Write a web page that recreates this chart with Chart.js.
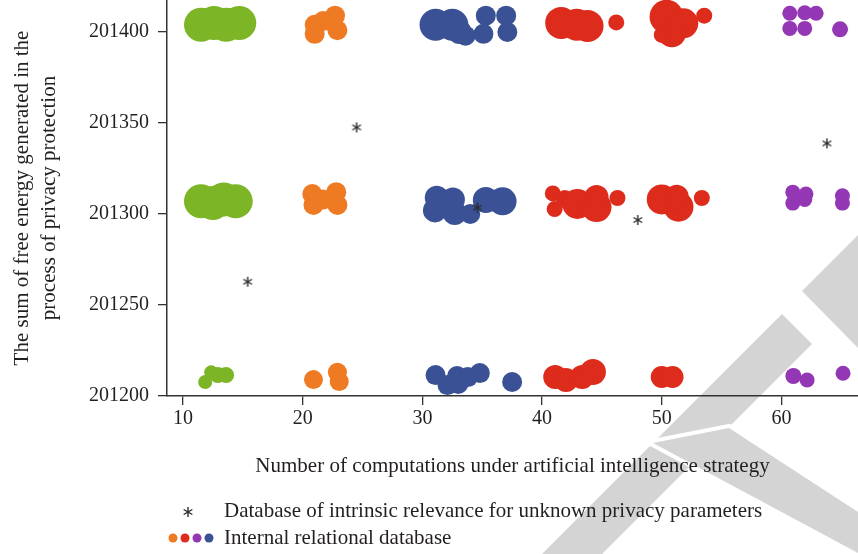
<!DOCTYPE html>
<html>
<head>
<meta charset="utf-8">
<script src="https://cdn.jsdelivr.net/npm/chart.js@4.4.1/dist/chart.umd.min.js"></script>
<style>
  html, body { margin: 0; padding: 0; background: #fff; }
  canvas { display: block; }
</style>
</head>
<body>
<canvas id="chart" width="858" height="554"></canvas>
<script>
// axis ticks
const xTicks = [10, 20, 30, 40, 50, 60];
const yTicks = [201200, 201250, 201300, 201350, 201400];

// green group (not in legend)
const greenX = [11.5, 12.6, 13.6, 14.7, 11.5, 12.5, 13.4, 14.4, 11.85, 12.35, 12.9, 13.6];
const greenY = [201404, 201405, 201404, 201405, 201307, 201306, 201308, 201307, 201207.7, 201213, 201211.5, 201211.5];
const greenR = [17, 17, 17, 17, 17, 17, 17, 17, 7, 7, 8, 8];

// internal relational database
const orangeX = [21.0, 22.7, 22.9, 21.0, 21.7, 20.8, 22.8, 22.9, 20.9, 21.7, 20.9, 22.9, 23.05];
const orangeY = [201404, 201409, 201401, 201399, 201406, 201311, 201312, 201305, 201305, 201308, 201209, 201213, 201208];
const orangeR = [10, 10, 10, 10, 10, 10, 10, 10, 10, 10, 9.5, 9.5, 9.5];

const blueX = [31.1, 32.5, 33.1, 33.6, 35.1, 35.3, 37.0, 37.1, 31.2, 31.05, 32.55, 32.7, 34.0, 35.3, 36.7, 31.1, 32.1, 33.0, 32.9, 33.8, 34.8, 37.5];
const blueY = [201404, 201404, 201400, 201398, 201399, 201409, 201409, 201400, 201309, 201302, 201308, 201300.5, 201300, 201307.7, 201307, 201211.5, 201206, 201206.6, 201211, 201210.4, 201212.6, 201207.7];
const blueR = [16, 16, 12, 10, 10, 10, 10, 10, 12, 12, 12, 12, 10, 13, 14, 10, 10, 10, 10, 10, 10, 10];

const redX = [41.6, 42.9, 43.8, 46.2, 50.4, 51.8, 50.85, 50.0, 53.55, 40.9, 41.05, 41.9, 42.95, 44.55, 44.55, 46.3, 50.0, 51.4, 51.25, 53.35, 41.1, 42.0, 43.35, 44.25, 50.0, 50.9];
const redY = [201405, 201404, 201403.3, 201405.3, 201408.4, 201404.8, 201399.3, 201398.4, 201409, 201311.3, 201302.7, 201308.2, 201305.5, 201303.8, 201309.3, 201308.8, 201308, 201304, 201309.5, 201308.8, 201210.4, 201208.8, 201210.4, 201213.2, 201210.4, 201210.4];
const redR = [16, 16, 16, 8, 17, 15, 14, 8, 8, 8, 8, 9, 15, 15, 12, 8, 15, 15, 12, 8, 12, 12, 12, 13, 11, 11];

const purpleX = [60.7, 61.95, 62.9, 60.7, 61.95, 64.9, 60.95, 62.05, 60.95, 61.95, 65.1, 65.1, 61.0, 62.15, 65.15];
const purpleY = [201410.3, 201410.6, 201410.3, 201402, 201402, 201401.5, 201312, 201311, 201306, 201308, 201310, 201306, 201211, 201208.8, 201212.5];
const purpleR = [7.5, 7.5, 7.5, 7.5, 7.5, 8, 7.5, 7.5, 7.5, 7.5, 7.5, 7.5, 8, 7.5, 7.5];

// database of intrinsic relevance (asterisks)
const starX = [15.4, 24.5, 34.6, 48.0, 63.8];
const starY = [201262.8, 201347.6, 201303.5, 201296.7, 201338.8];

const legendLabels = [
  'Database of intrinsic relevance for unknown privacy parameters',
  'Internal relational database'
];

const COLORS = {
  green: '#7cb526',
  orange: '#ee7b23',
  blue: '#3a5195',
  red: '#dd2c1c',
  purple: '#9437b5',
  star: '#2a2a2a'
};
const FONT = '"Liberation Serif", "Times New Roman", serif';

function toPoints(xs, ys, rs) {
  return xs.map((x, i) => ({ x: x, y: ys[i], r: rs ? rs[i] : undefined }));
}

// small "*" glyph used as point style
function makeStar(size) {
  const c = document.createElement('canvas');
  c.width = size; c.height = size;
  const g = c.getContext('2d');
  g.strokeStyle = COLORS.star;
  g.lineWidth = 1.4;
  const m = size / 2, len = size / 2 - 1;
  for (let k = 0; k < 3; k++) {
    const a = Math.PI / 2 + k * Math.PI / 3;
    g.beginPath();
    g.moveTo(m - Math.cos(a) * len, m - Math.sin(a) * len);
    g.lineTo(m + Math.cos(a) * len, m + Math.sin(a) * len);
    g.stroke();
  }
  return c;
}
const starImg = makeStar(12);

// light grey watermark behind everything
const watermark = {
  id: 'watermark',
  beforeDraw(chart) {
    const ctx = chart.ctx;
    const poly = pts => {
      ctx.beginPath();
      pts.forEach((p, i) => i ? ctx.lineTo(p[0], p[1]) : ctx.moveTo(p[0], p[1]));
      ctx.closePath();
    };
    ctx.save();
    ctx.fillStyle = '#d4d4d4';
    poly([[858, 235], [802, 291], [858, 348]]);
    ctx.fill();
    poly([[782, 314], [812, 344], [602, 554], [542, 554]]);
    ctx.fill();
    // crossing stroke, separated by a thin white gap
    poly([[653, 443], [729, 428], [858, 512], [858, 553]]);
    ctx.strokeStyle = '#fff';
    ctx.lineWidth = 8;
    ctx.lineJoin = 'miter';
    ctx.stroke();
    ctx.fill();
    ctx.restore();
  }
};

// legend under the axis title
const bottomLegend = {
  id: 'bottomLegend',
  afterDraw(chart) {
    const ctx = chart.ctx;
    ctx.save();
    ctx.font = '21px ' + FONT;
    ctx.fillStyle = '#231f20';
    ctx.textBaseline = 'middle';
    ctx.textAlign = 'left';
    ctx.drawImage(starImg, 188 - starImg.width / 2, 512 - starImg.height / 2);
    ctx.fillText(legendLabels[0], 224, 511);
    [COLORS.orange, COLORS.red, COLORS.purple, COLORS.blue].forEach((c, i) => {
      ctx.fillStyle = c;
      ctx.beginPath();
      ctx.arc(173 + i * 12, 538, 4.5, 0, Math.PI * 2);
      ctx.fill();
    });
    ctx.fillStyle = '#231f20';
    ctx.fillText(legendLabels[1], 224, 538);
    ctx.restore();
  }
};

function bubbleSet(label, xs, ys, rs, color) {
  return {
    type: 'bubble',
    label: label,
    data: toPoints(xs, ys, rs),
    backgroundColor: color,
    borderWidth: 0,
    hoverRadius: 0,
    clip: false
  };
}

new Chart(document.getElementById('chart'), {
  data: {
    datasets: [
      {
        type: 'scatter',
        label: legendLabels[0],
        data: toPoints(starX, starY),
        pointStyle: starImg,
        pointRadius: 6,
        showLine: false,
        clip: false
      },
      bubbleSet('green', greenX, greenY, greenR, COLORS.green),
      bubbleSet('orange', orangeX, orangeY, orangeR, COLORS.orange),
      bubbleSet('blue', blueX, blueY, blueR, COLORS.blue),
      bubbleSet('red', redX, redY, redR, COLORS.red),
      bubbleSet('purple', purpleX, purpleY, purpleR, COLORS.purple)
    ]
  },
  options: {
    responsive: false,
    animation: false,
    events: [],
    layout: { autoPadding: false, padding: { left: 0, right: 0, top: 0, bottom: 75 } },
    plugins: {
      legend: { display: false },
      tooltip: { enabled: false }
    },
    scales: {
      x: {
        type: 'linear',
        min: 8.66,
        max: 66.4,
        afterBuildTicks: s => { s.ticks = xTicks.map(v => ({ value: v })); },
        afterFit: s => { s.height = 83; s.paddingLeft = 0; s.paddingRight = 0; },
        grid: { drawOnChartArea: false, drawTicks: true, tickLength: 9, color: '#333', lineWidth: 1.3 },
        border: { display: true, color: '#333', width: 1.5 },
        ticks: { color: '#231f20', padding: 2, font: { family: FONT, size: 20 } },
        title: {
          display: true,
          text: 'Number of computations under artificial intelligence strategy',
          color: '#231f20',
          padding: { top: 0, bottom: 0 },
          font: { family: FONT, size: 21, lineHeight: 1.2 }
        }
      },
      y: {
        type: 'linear',
        min: 201200,
        max: 201417.6,
        afterBuildTicks: s => { s.ticks = yTicks.map(v => ({ value: v })); },
        afterFit: s => { s.width = 167; s.paddingTop = 0; s.paddingBottom = 0; },
        grid: { drawOnChartArea: false, drawTicks: true, tickLength: 9, color: '#333', lineWidth: 1.3 },
        border: { display: true, color: '#333', width: 1.5 },
        ticks: {
          color: '#231f20',
          padding: 9,
          font: { family: FONT, size: 20 },
          callback: v => String(v)
        },
        title: {
          display: true,
          text: ['The sum of free energy generated in the', 'process of privacy protection'],
          color: '#231f20',
          padding: { top: 9, bottom: 0 },
          font: { family: FONT, size: 21, lineHeight: 1.27 }
        }
      }
    }
  },
  plugins: [watermark, bottomLegend]
});
</script>
</body>
</html>
